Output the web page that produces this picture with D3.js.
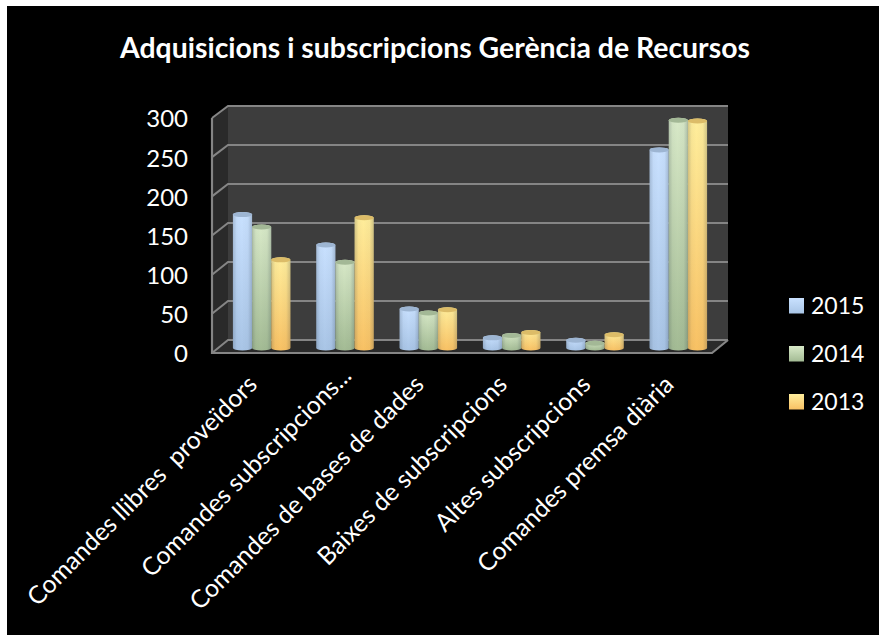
<!DOCTYPE html>
<html>
<head>
<meta charset="utf-8">
<script src="https://cdn.jsdelivr.net/npm/d3@7/dist/d3.min.js"></script>
<style>
  html, body { margin: 0; padding: 0; background: #fff; }
  svg { display: block; }
  text { font-family: Lato, sans-serif; fill: #fff; white-space: pre; }
</style>
</head>
<body>
<div id="chart"></div>
<script>
// data
const categories = [
  "Comandes llibres  proveïdors",
  "Comandes subscripcions...",
  "Comandes de bases de dades",
  "Baixes de subscripcions",
  "Altes subscripcions",
  "Comandes premsa diària",
];
const years = ["2015", "2014", "2013"];
const values2015 = [171, 132, 50, 13, 10, 254];
const values2014 = [155, 110, 45, 16, 6, 292];
const values2013 = [113, 167, 49, 20, 17, 291];
const yTicks = [0, 50, 100, 150, 200, 250, 300];
const seriesValues = { 2015: values2015, 2014: values2014, 2013: values2013 };

// colours per series: light top, dark bottom, lid
const colors = {
  2015: { top: "#c9e1ff", bottom: "#a9c5e6", lid: "#9db5d2" },
  2014: { top: "#d8e9c8", bottom: "#a3bb94", lid: "#a3b896" },
  2013: { top: "#ffee9c", bottom: "#f8c164", lid: "#dcbc68" },
};

const W = 879, H = 635;
const depth = { dx: 16, dy: 12 };
const barRy = 2.5;

const svg = d3.select("#chart").append("svg").attr("width", W).attr("height", H);
const defs = svg.append("defs");

// the reference is a soft, slightly blurred image
defs.append("filter").attr("id", "soft")
  .append("feGaussianBlur").attr("stdDeviation", 0.7);

years.forEach((yr) => {
  const g = defs.append("linearGradient").attr("id", `v-${yr}`)
    .attr("x1", 0).attr("y1", 0).attr("x2", 0).attr("y2", 1);
  g.append("stop").attr("offset", 0).attr("stop-color", colors[yr].top);
  g.append("stop").attr("offset", 1).attr("stop-color", colors[yr].bottom);
});
const shade = defs.append("linearGradient").attr("id", "shade");
[[0, 0.2], [0.2, 0.03], [0.45, 0], [0.78, 0.03], [1, 0.22]].forEach(([o, a]) => {
  shade.append("stop").attr("offset", o).attr("stop-color", "#1c2a3a").attr("stop-opacity", a);
});

// black panel
svg.append("rect").attr("x", 7).attr("y", 6).attr("width", W - 7).attr("height", H - 6).attr("fill", "#000");

// scales
const yBack = d3.scaleLinear().domain([0, 300]).range([340, 106]);
const yFront = yBack.copy().range([340 + depth.dy + 1, 106 + depth.dy]);
const x = d3.scaleBand().domain(categories).range([220, 720]).paddingInner(0.31).paddingOuter(0.155);
const xSeries = d3.scaleBand().domain(years).range([0, x.bandwidth()]);
const x0 = 228, x1 = 728;

const chart = svg.append("g").attr("filter", "url(#soft)");

// walls
chart.append("rect").attr("x", x0).attr("y", yBack(300)).attr("width", x1 - x0)
  .attr("height", yBack(0) - yBack(300)).attr("fill", "#3c3c3c");
chart.append("path").attr("fill", "#2b2b2b")
  .attr("d", `M${x0},${yBack(300)}L${x0 - depth.dx},${yFront(300)}L${x0 - depth.dx},${yFront(0)}L${x0},${yBack(0)}Z`);
chart.append("path").attr("fill", "#292929")
  .attr("d", `M${x0},${yBack(0)}L${x1},${yBack(0)}L${x1 - depth.dx},${yFront(0)}L${x0 - depth.dx},${yFront(0)}Z`);

// gridlines
const gridColor = "#858585";
chart.selectAll(".grid").data(yTicks).enter().append("path")
  .attr("class", "grid")
  .attr("fill", "none").attr("stroke", gridColor).attr("stroke-width", 2)
  .attr("d", (d) => `M${x0 - depth.dx},${yFront(d)}L${x0},${yBack(d)}L${x1},${yBack(d)}`);
chart.append("path").attr("fill", "none").attr("stroke", gridColor).attr("stroke-width", 2.2)
  .attr("d", `M${x0 - depth.dx},${yFront(300)}V${yFront(0)}H${x1 - depth.dx}L${x1},${yBack(0)}`);

// cylinders
const barBase = yBack(0) + 8;
const yBar = (v) => barBase - (yBack(0) - yBack(v));
const bars = years.flatMap((yr) =>
  categories.map((c, i) => ({ yr, c, v: seriesValues[yr][i] }))
);
const cylinder = (d) => {
  const l = x(d.c) + xSeries(d.yr), w = xSeries.bandwidth(), rx = w / 2;
  return `M${l},${yBar(d.v)}V${barBase}A${rx},${barRy} 0 0 0 ${l + w},${barBase}V${yBar(d.v)}A${rx},${barRy} 0 0 0 ${l},${yBar(d.v)}Z`;
};
const barG = chart.selectAll(".bar").data(bars).enter().append("g").attr("class", "bar");
barG.append("path").attr("d", cylinder).attr("fill", (d) => `url(#v-${d.yr})`);
barG.append("path").attr("d", cylinder).attr("fill", "url(#shade)");
barG.append("ellipse")
  .attr("cx", (d) => x(d.c) + xSeries(d.yr) + xSeries.bandwidth() / 2)
  .attr("cy", (d) => yBar(d.v))
  .attr("rx", xSeries.bandwidth() / 2)
  .attr("ry", barRy)
  .attr("fill", (d) => colors[d.yr].lid);

// y axis
const yAxis = svg.append("g").attr("transform", "translate(188,0)")
  .call(d3.axisLeft(yFront).tickValues(yTicks).tickSize(0).tickPadding(0));
yAxis.select(".domain").remove();
yAxis.selectAll("text").style("font-size", "24px").style("font-family", "Lato, sans-serif").attr("fill", "#fff").attr("dy", "0.37em");

// category labels, the truncated one sits further along its diagonal
svg.selectAll(".cat").data(categories).enter().append("text")
  .attr("class", "cat")
  .attr("text-anchor", "end")
  .attr("font-size", 24.8)
  .attr("transform", (d) => {
    const nudge = d.endsWith("...") ? [11, -9] : [0, 0];
    return `translate(${x(d) + x.bandwidth() / 2 - 3 + nudge[0]},${386 + nudge[1]}) rotate(-45)`;
  })
  .text((d) => d);

// title
svg.append("text").attr("x", 435).attr("y", 58).attr("text-anchor", "middle")
  .attr("font-size", 28.4).attr("font-weight", 700)
  .text("Adquisicions i subscripcions Gerència de Recursos");

// legend
const legend = svg.selectAll(".leg").data(years).enter().append("g")
  .attr("class", "leg")
  .attr("transform", (d, i) => `translate(789,${298 + i * 48})`);
legend.append("rect").attr("width", 15).attr("height", 15.5).attr("fill", (d) => `url(#v-${d})`);
legend.append("text").attr("x", 22).attr("y", 16).attr("font-size", 23).text((d) => d);
</script>
</body>
</html>
